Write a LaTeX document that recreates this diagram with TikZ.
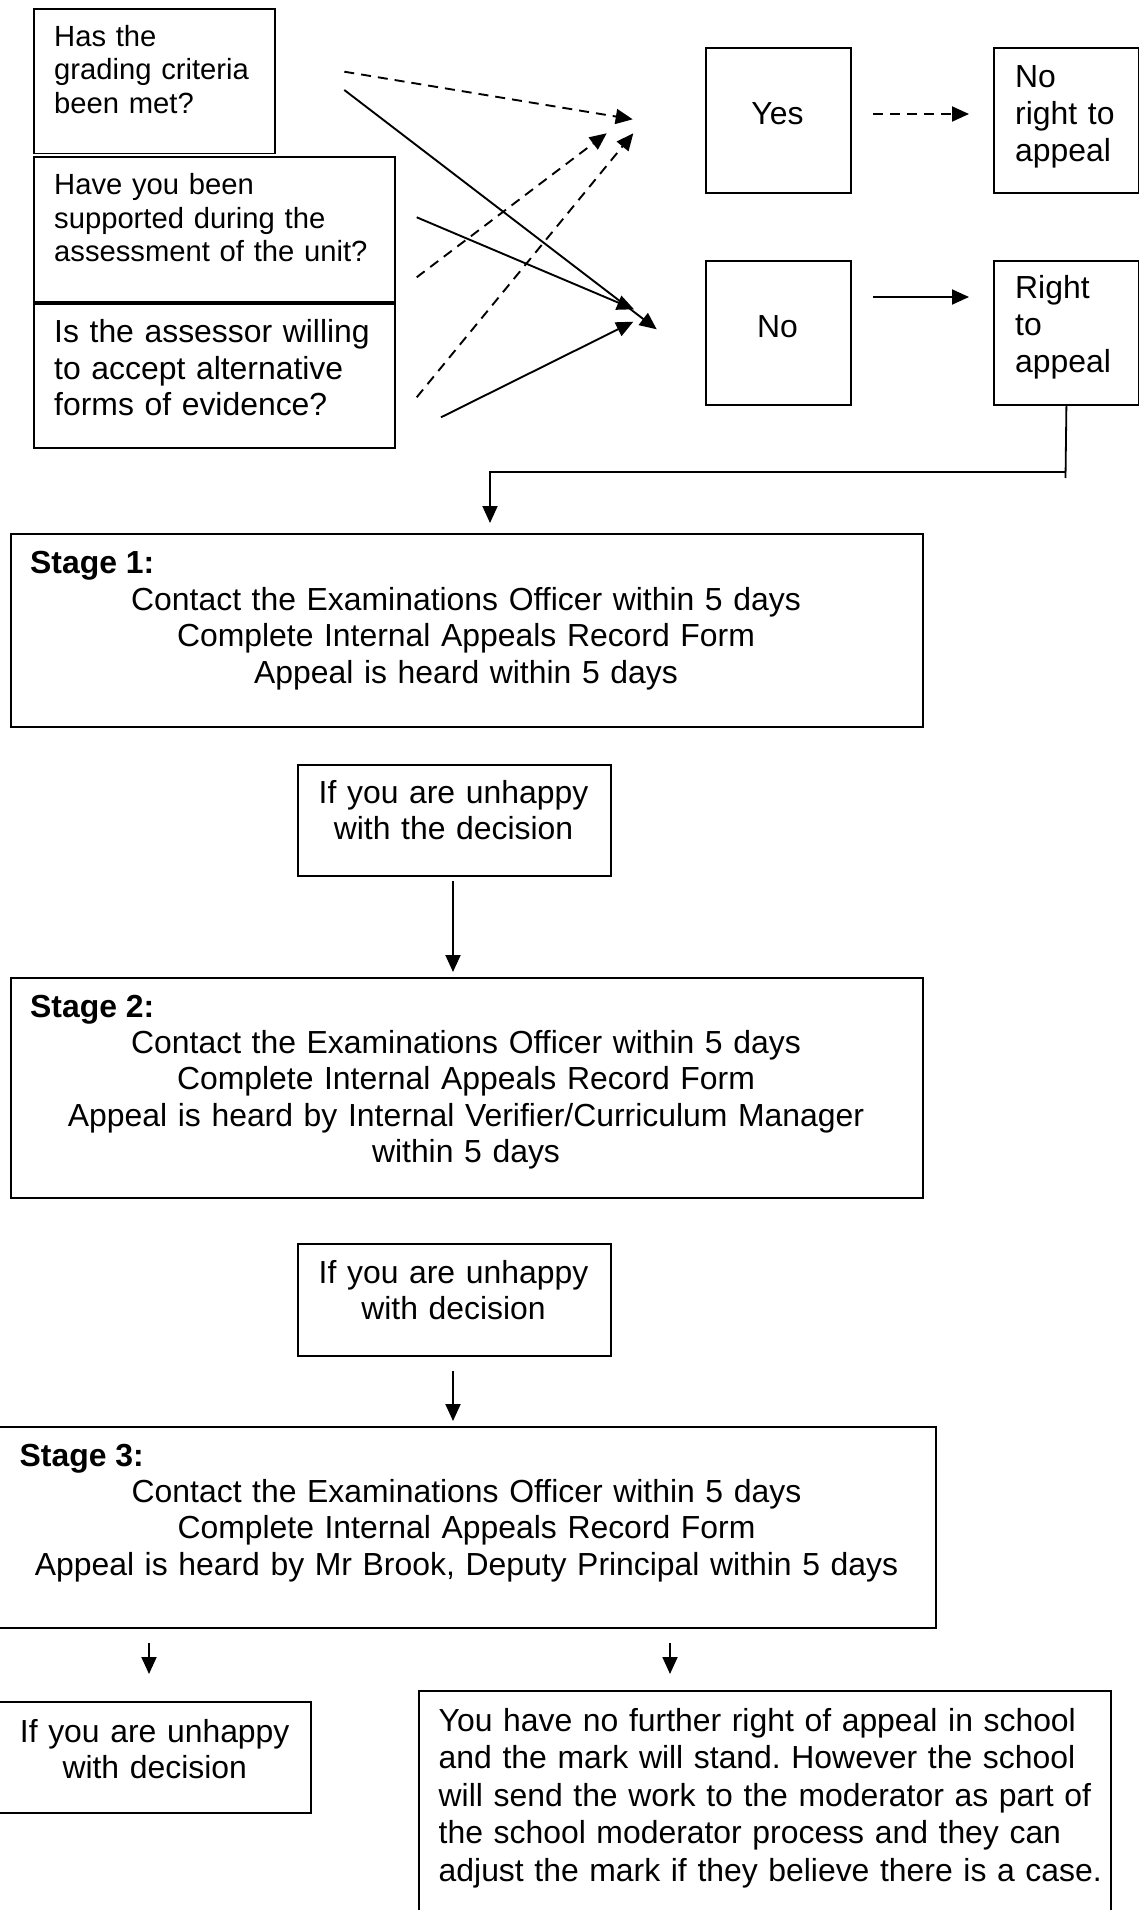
\documentclass[tikz,border=0pt]{standalone}
\usepackage{fontspec}
\setmainfont{Liberation Sans}
\usetikzlibrary{arrows.meta,calc}
\begin{document}
\frenchspacing
\begin{tikzpicture}[x=1pt,y=-1pt,
  boxst/.style={draw, line width=1.8pt, inner sep=0pt, anchor=north west},
  smalltxt/.style={font=\fontsize{29.2}{33.3}\selectfont, text width=340pt, align=left, inner sep=0pt, anchor=base west},
  bigtxt/.style={font=\fontsize{31.9}{36.3}\selectfont, text width=340pt, align=left, inner sep=0pt, anchor=base west},
  ctxt/.style={font=\fontsize{31.9}{36.5}\selectfont, text width=900pt, align=center, inner sep=0pt, anchor=base},
  ttl/.style={font=\fontsize{31.9}{36.5}\selectfont\bfseries, inner sep=0pt, anchor=base west},
  arr/.style={line width=1.9pt, -{Triangle[length=17pt,width=15pt]}},
  dsh/.style={arr, dash pattern=on 10pt off 7pt},
  ln/.style={line width=1.8pt}
]
\useasboundingbox (0,0) rectangle (1139,1910);

% question boxes
\node[boxst, minimum width=241pt, minimum height=144.4pt] (q1) at (33,8.3) {};
\node[boxst, minimum width=361pt, minimum height=144.7pt] (q2) at (33,156) {};
\node[boxst, minimum width=361pt, minimum height=144pt] (q3) at (33,302.7) {};
\node[smalltxt] (q1t) at (54,46.7) {Has the\\grading criteria\\been met?};
\node[smalltxt] (q2t) at (54,195) {Have you been\\supported during the\\assessment of the unit?};
\node[bigtxt] (q3t) at (54,342.7) {Is the assessor willing\\to accept alternative\\forms of evidence?};

% yes / no boxes
\node[boxst, minimum width=145pt, minimum height=145pt] (yes) at (705,47) {};
\node[boxst, minimum width=145pt, minimum height=145pt] (nr) at (993,47) {};
\node[boxst, minimum width=145pt, minimum height=144pt] (no) at (705,260) {};
\node[boxst, minimum width=145pt, minimum height=144pt] (ra) at (993,260) {};
\node[ctxt, text width=140pt] (yest) at (777.5,125) {Yes};
\node[ctxt, text width=140pt] (not) at (777.5,337.7) {No};
\node[bigtxt, font=\fontsize{31.9}{37}\selectfont] (nrt) at (1015,88) {No\\right to\\appeal};
\node[bigtxt, font=\fontsize{31.9}{37}\selectfont] (rat) at (1015,298.3) {Right\\to\\appeal};

% crossing arrows
\coordinate (a1s) at (344.3,71.7);  \coordinate (a1e) at (632.7,119.3);
\coordinate (a2s) at (344.3,90);    \coordinate (a2e) at (656.7,329.3);
\coordinate (a3s) at (416.7,217.3); \coordinate (a3e) at (634,309.3);
\coordinate (a4s) at (416.7,277.3); \coordinate (a4e) at (606.7,133.3);
\coordinate (a5s) at (416.7,397.3); \coordinate (a5e) at (633.3,133.3);
\coordinate (a6s) at (441,417.3);   \coordinate (a6e) at (633.3,321.7);
\draw[dsh] (a1s) -- (a1e);
\draw[arr] (a2s) -- (a2e);
\draw[arr] (a3s) -- (a3e);
\draw[dsh] (a4s) -- (a4e);
\draw[dsh] (a5s) -- (a5e);
\draw[arr] (a6s) -- (a6e);

% yes -> no right, no -> right
\coordinate (ya) at (873,114); \coordinate (yb) at (969,114);
\coordinate (na) at (873,297); \coordinate (nb) at (969,297);
\draw[dsh] (ya) -- (yb);
\draw[arr] (na) -- (nb);

% stage 1
\node[boxst, minimum width=912pt, minimum height=193pt] (s1) at (10,533) {};
\node[ttl] (s1h) at (30,573.5) {Stage 1:};
\node[ctxt] (s1t) at (466,610) {Contact the Examinations Officer within 5 days\\Complete Internal Appeals Record Form\\Appeal is heard within 5 days};

% connector right to appeal -> stage 1
\coordinate (rb) at (1065.5,478);
\coordinate (rj) at (1065.5,472);
\coordinate (rl) at (490,472);
\coordinate (s1tip) at (490,523);
\draw[ln] (ra.south) -- (rb);
\draw[arr] (rj) -- (rl) -- (s1tip);

% unhappy 1
\node[boxst, minimum width=313pt, minimum height=111pt] (u1) at (297,764) {};
\node[ctxt, text width=300pt] (u1t) at (453.5,803.3) {If you are unhappy\\with the decision};
\coordinate (u1a) at (453,881); \coordinate (u1b) at (453,972);
\draw[arr] (u1a) -- (u1b);

% stage 2
\node[boxst, minimum width=912pt, minimum height=220pt] (s2) at (10,977) {};
\node[ttl] (s2h) at (30,1017) {Stage 2:};
\node[ctxt] (s2t) at (466,1053.3) {Contact the Examinations Officer within 5 days\\Complete Internal Appeals Record Form\\Appeal is heard by Internal Verifier/Curriculum Manager\\within 5 days};

% unhappy 2
\node[boxst, minimum width=313pt, minimum height=112pt] (u2) at (297,1243) {};
\node[ctxt, text width=300pt] (u2t) at (453.5,1283.3) {If you are unhappy\\with decision};
\coordinate (u2a) at (453,1371); \coordinate (u2b) at (453,1421);
\draw[arr] (u2a) -- (u2b);

% stage 3
\node[boxst, minimum width=938pt, minimum height=201pt] (s3) at (-3,1426) {};
\node[ttl] (s3h) at (19.5,1466) {Stage 3:};
\node[ctxt] (s3t) at (466.5,1502) {Contact the Examinations Officer within 5 days\\Complete Internal Appeals Record Form\\Appeal is heard by Mr Brook, Deputy Principal within 5 days};

\coordinate (la) at (149,1643); \coordinate (lb) at (149,1674);
\coordinate (ra2) at (670,1643); \coordinate (rb2) at (670,1674);
\draw[arr] (la) -- (lb);
\draw[arr] (ra2) -- (rb2);

% bottom boxes
\node[boxst, minimum width=313pt, minimum height=111pt] (bl) at (-3,1701) {};
\node[ctxt, text width=300pt] (blt) at (154.7,1742) {If you are unhappy\\with decision};
\node[boxst, minimum width=692pt, minimum height=260pt] (br) at (418,1690) {};
\node[bigtxt, text width=680pt, font=\fontsize{31.9}{37.5}\selectfont] (brt) at (438.5,1731) {You have no further right of appeal in school\\and the mark will stand. However the school\\will send the work to the moderator as part of\\the school moderator process and they can\\adjust the mark if they believe there is a case.};
\end{tikzpicture}
\end{document}
